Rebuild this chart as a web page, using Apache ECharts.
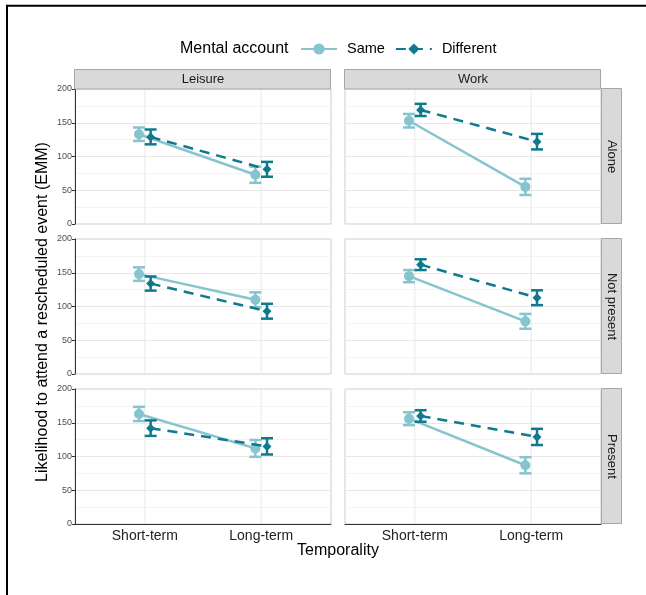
<!DOCTYPE html>
<html>
<head>
<meta charset="utf-8">
<script src="https://cdn.jsdelivr.net/npm/echarts@6/dist/echarts.min.js"></script>
<style>html,body{margin:0;padding:0;background:#fff;}#c{width:646px;height:595px;}</style>
</head>
<body>
<div id="c"></div>
<script>
// ---- data ----
const categories = ['Short-term', 'Long-term'];
const columns = ['Leisure', 'Work'];
const rows = ['Alone', 'Not present', 'Present'];
const groups = ['Same', 'Different'];
// panel order: Alone-Leisure, Alone-Work, NotPresent-Leisure, NotPresent-Work, Present-Leisure, Present-Work
const sameEmm = [[133, 73], [153, 55], [148, 110], [145, 78], [163, 112], [156, 87]];
const sameCi  = [[10, 12], [10, 12], [10, 11], [9, 11], [10.5, 12.5], [9.5, 12]];
const diffEmm = [[129, 81], [169, 122], [134, 93], [162, 113], [142, 115], [160, 129]];
const diffCi  = [[11, 11], [9, 11.5], [10.5, 11], [8, 11], [11.5, 12], [8.5, 12]];
const yTicks = [0, 50, 100, 150, 200];

// ---- styles ----
const FONT = 'Liberation Sans, Arial, Helvetica, sans-serif';
const colSame = '#86C4CE';
const colDiff = '#0F7A8D';
const dodge = 0.05;
const colLeft = [75, 345];
const panelW = 256;
const rowTop = [89, 239, 389];
const panelH = 135;

const grids = [], xAxes = [], yAxes = [], series = [];
for (let r = 0; r < rows.length; r++) {
  for (let c = 0; c < columns.length; c++) {
    const p = r * columns.length + c;
    const bottom = r === rows.length - 1;
    const left = c === 0;
    grids.push({ left: colLeft[c], top: rowTop[r], width: panelW, height: panelH,
      show: true, borderColor: '#cccccc', borderWidth: 1, backgroundColor: '#fff' });
    xAxes.push({
      gridIndex: p, type: 'value', min: 0.4, max: 2.6, interval: 0.2,
      splitLine: { show: false },
      axisTick: { show: false },
      axisLine: { show: bottom, onZero: false, lineStyle: { color: '#333', width: 1 } },
      axisLabel: { show: bottom, fontFamily: FONT, fontSize: 14, color: '#222', margin: 5,
        formatter: v => { const i = Math.round(v) - 1; return (Math.abs(v - Math.round(v)) < 1e-6 && i >= 0 && i < categories.length) ? categories[i] : ''; } }
    });
    yAxes.push({
      gridIndex: p, type: 'value', min: yTicks[0], max: yTicks[yTicks.length - 1], interval: 50,
      axisLine: { show: left, lineStyle: { color: '#333', width: 1 } },
      axisTick: { show: left, length: 3, lineStyle: { color: '#333' } },
      axisLabel: { show: left, fontFamily: FONT, fontSize: 9, color: '#4d4d4d', margin: 3 },
      splitLine: { show: true, lineStyle: { color: '#e8e8e8', width: 1 } },
      minorTick: { show: false, splitNumber: 2 },
      minorSplitLine: { show: true, lineStyle: { color: '#f3f3f3', width: 1 } }
    });
    // vertical gridlines at category positions
    series.push({
      type: 'custom', xAxisIndex: p, yAxisIndex: p, silent: true, z: 1,
      data: categories.map((cat, i) => [i + 1]),
      renderItem: (params, api) => {
        const a = api.coord([api.value(0), yTicks[0]]);
        const b = api.coord([api.value(0), yTicks[yTicks.length - 1]]);
        return { type: 'line', shape: { x1: a[0], y1: a[1], x2: b[0], y2: b[1] },
          style: { stroke: '#e8e8e8', lineWidth: 1 } };
      }
    });
    const defs = [
      { name: groups[0], emm: sameEmm[p], ci: sameCi[p], off: -dodge, color: colSame, sym: 'circle', size: 10, type: 'solid' },
      { name: groups[1], emm: diffEmm[p], ci: diffCi[p], off: dodge, color: colDiff, sym: 'diamond', size: 9, type: [10, 7] }
    ];
    defs.forEach((d, gi) => {
      series.push({
        name: d.name, type: 'line', xAxisIndex: p, yAxisIndex: p, z: 3 + gi * 2,
        data: d.emm.map((v, i) => [i + 1 + d.off, v]),
        symbol: d.sym, symbolSize: d.size, showSymbol: true,
        itemStyle: { color: d.color, borderWidth: 0 },
        lineStyle: { color: d.color, width: 2.5, type: d.type },
        emphasis: { disabled: true }, silent: true, animation: false
      });
      series.push({
        name: d.name, type: 'custom', xAxisIndex: p, yAxisIndex: p, z: 4 + gi * 2, silent: true,
        data: d.emm.map((v, i) => [i + 1 + d.off, v - d.ci[i], v + d.ci[i]]),
        encode: { x: 0, y: [1, 2] },
        renderItem: ((col) => (params, api) => {
          const lo = api.coord([api.value(0), api.value(1)]);
          const hi = api.coord([api.value(0), api.value(2)]);
          const hw = 6;
          const st = { stroke: col, lineWidth: 2.5 };
          return { type: 'group', children: [
            { type: 'line', shape: { x1: lo[0], y1: lo[1], x2: hi[0], y2: hi[1] }, style: st },
            { type: 'line', shape: { x1: lo[0] - hw, y1: lo[1], x2: lo[0] + hw, y2: lo[1] }, style: st },
            { type: 'line', shape: { x1: hi[0] - hw, y1: hi[1], x2: hi[0] + hw, y2: hi[1] }, style: st }
          ]};
        })(d.color)
      });
    });
  }
}

const graphics = [];
// outer frame (top and left)
graphics.push({ type: 'polyline', shape: { points: [[7, 595], [7, 5.7], [646, 5.7]] },
  style: { stroke: '#000', lineWidth: 2, fill: null }, z: 100 });
// top strips
columns.forEach((name, c) => {
  graphics.push({ type: 'rect', shape: { x: colLeft[c] - 0.5, y: 69.5, width: panelW, height: 19.5 },
    style: { fill: '#d9d9d9', stroke: '#a6a6a6', lineWidth: 1 }, z: 10 });
  graphics.push({ type: 'text', x: colLeft[c] + panelW / 2, y: 79.5,
    style: { text: name, font: '13px ' + FONT, fill: '#1a1a1a', align: 'center', verticalAlign: 'middle' }, z: 11 });
});
// right strips
rows.forEach((name, r) => {
  const x0 = colLeft[1] + panelW + 0.5;
  graphics.push({ type: 'rect', shape: { x: x0, y: rowTop[r] - 0.5, width: 20, height: panelH },
    style: { fill: '#d9d9d9', stroke: '#a6a6a6', lineWidth: 1 }, z: 10 });
  graphics.push({ type: 'text', x: x0 + 10, y: rowTop[r] + panelH / 2, rotation: -Math.PI / 2,
    style: { text: name, font: '13px ' + FONT, fill: '#1a1a1a', align: 'center', verticalAlign: 'middle' }, z: 11 });
});
// axis titles
graphics.push({ type: 'text', x: 43, y: 312, rotation: Math.PI / 2,
  style: { text: 'Likelihood to attend a rescheduled event (EMM)', font: '16px ' + FONT, fill: '#000', align: 'center', verticalAlign: 'middle' } });
graphics.push({ type: 'text', x: 338, y: 551,
  style: { text: 'Temporality', font: '16px ' + FONT, fill: '#000', align: 'center', verticalAlign: 'middle' } });
// legend title
graphics.push({ type: 'text', x: 180, y: 48.5,
  style: { text: 'Mental account', font: '16px ' + FONT, fill: '#000', align: 'left', verticalAlign: 'middle' } });

const chart = echarts.init(document.getElementById('c'), null, { renderer: 'canvas' });
chart.setOption({
  animation: false,
  backgroundColor: '#fff',
  grid: grids, xAxis: xAxes, yAxis: yAxes, series: series,
  legend: {
    data: groups, left: 295, top: 36.5, itemWidth: 36, itemHeight: 14, itemGap: 10,
    textStyle: { fontFamily: FONT, fontSize: 14.5, color: '#000', padding: [0, 0, 0, 5] },
    selectedMode: false
  },
  graphic: graphics
});
</script>
</body>
</html>
